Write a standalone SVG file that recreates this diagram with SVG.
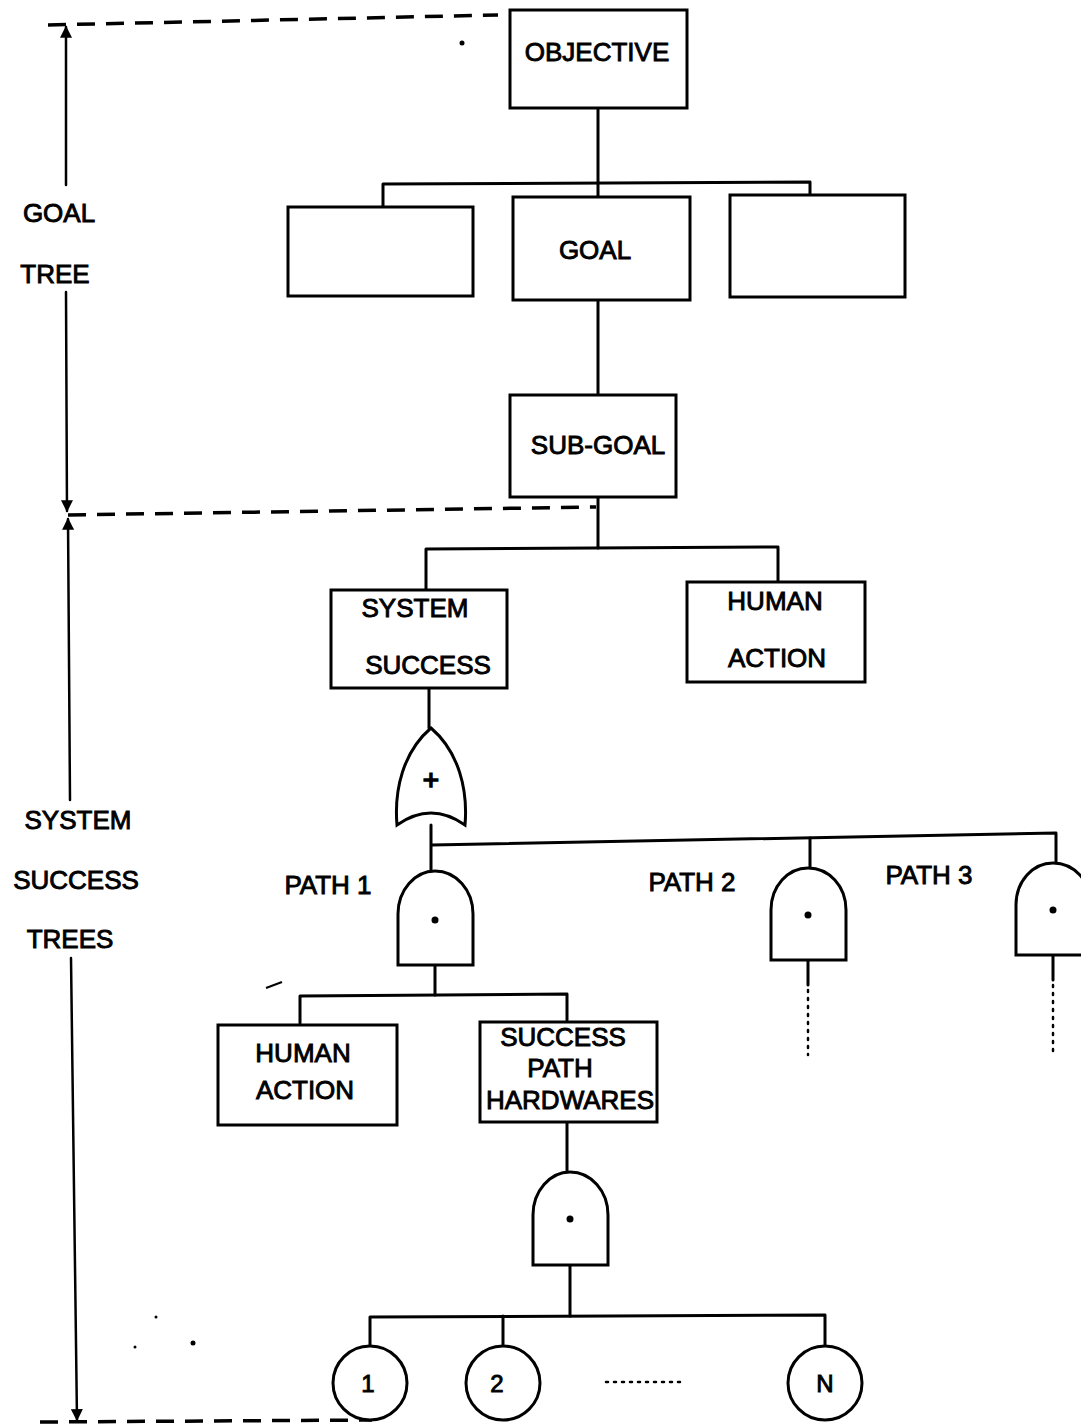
<svg xmlns="http://www.w3.org/2000/svg" width="1081" height="1426" viewBox="0 0 1081 1426">
<style>
.l{fill:none;stroke:#000;stroke-width:3;stroke-linecap:round;stroke-linejoin:round}
.d{fill:none;stroke:#000;stroke-width:3.5;stroke-dasharray:18 11}
.dot{fill:none;stroke:#000;stroke-width:2.5;stroke-dasharray:2 6;stroke-linecap:round}
.b{fill:#fff;stroke:#000;stroke-width:3}
text{font-family:"Liberation Sans",Arial,sans-serif;font-size:26px;fill:#000;stroke:#000;stroke-width:0.9;text-anchor:middle}
</style>
<defs>
<marker id="ah" viewBox="0 0 10 10" refX="9" refY="5" markerWidth="14" markerHeight="12" orient="auto-start-reverse" markerUnits="userSpaceOnUse">
<path d="M0,0 L10,5 L0,10 Z" fill="#000"/>
</marker>
</defs>
<rect width="1081" height="1426" fill="#fff"/>

<g id="scale">
<path class="d" d="M48,25 L498,15"/>
<path class="d" d="M68,515 L596,507"/>
<path class="d" d="M40,1422 L372,1420"/>
<path class="l" d="M66,185 L66,27" marker-end="url(#ah)" style="stroke-width:2.5"/>
<path class="l" d="M66,292 L67,511" marker-end="url(#ah)" style="stroke-width:2.5"/>
<path class="l" d="M70,800 L68,519" marker-end="url(#ah)" style="stroke-width:2.5"/>
<path class="l" d="M71,958 L77,1420" marker-end="url(#ah)" style="stroke-width:2.5"/>
<text x="59" y="222">GOAL</text>
<text x="55" y="283">TREE</text>
<text x="78" y="829">SYSTEM</text>
<text x="76" y="889">SUCCESS</text>
<text x="70" y="948">TREES</text>
</g>

<g id="connectors">
<path class="l" d="M598,108 V183"/>
<path class="l" d="M383,207 V184 L810,182 V195"/>
<path class="l" d="M598,183 V197"/>
<path class="l" d="M598,300 V395"/>
<path class="l" d="M598,497 V548"/>
<path class="l" d="M426,590 V549 L778,547 V582"/>
<path class="l" d="M429,688 V728"/>
<path class="l" d="M431,825 V871"/>
<path class="l" d="M432,845 L1056,833 V863"/>
<path class="l" d="M810,838 V868"/>
<path class="l" d="M435,965 V995"/>
<path class="l" d="M300,1023 V996 L567,994 V1020"/>
<path class="l" d="M567,1122 V1172"/>
<path class="l" d="M570,1265 V1316"/>
<path class="l" d="M370,1345 V1317 L825,1315 V1345"/>
<path class="l" d="M503,1316 V1345"/>
<path class="l" d="M808,960 V985"/>
<path class="dot" d="M808,990 V1055"/>
<path class="l" d="M1053,955 V980"/>
<path class="dot" d="M1053,985 V1055"/>
<path class="dot" d="M606,1382 H682"/>
</g>

<g id="objective"><rect class="b" x="510" y="10" width="177" height="98"/><text x="597" y="61">OBJECTIVE</text></g>
<g id="goal-left"><rect class="b" x="288" y="207" width="185" height="89"/></g>
<g id="goal"><rect class="b" x="513" y="197" width="177" height="103"/><text x="595" y="259">GOAL</text></g>
<g id="goal-right"><rect class="b" x="730" y="195" width="175" height="102"/></g>
<g id="subgoal"><rect class="b" x="510" y="395" width="166" height="102"/><text x="598" y="454">SUB-GOAL</text></g>
<g id="system-success"><rect class="b" x="331" y="590" width="176" height="98"/><text x="415" y="617">SYSTEM</text><text x="428" y="674">SUCCESS</text></g>
<g id="human-action-1"><rect class="b" x="687" y="582" width="178" height="100"/><text x="775" y="610">HUMAN</text><text x="777" y="667">ACTION</text></g>

<g id="or-gate">
<path class="b" d="M397,825 C394,790 403,752 431,728 C459,752 468,790 465,825 Q431,801 397,825 Z"/>
<text x="431" y="789" style="font-size:28px;stroke-width:1.5">+</text>
</g>

<g id="and-path1">
<path class="b" d="M398,965 V914 C398,890 415,871 435,871 C456,871 473,890 473,914 V965 Z"/>
<circle cx="435" cy="920" r="3.5" fill="#000"/>
</g>
<text x="328" y="894">PATH 1</text>
<g id="and-path2">
<path class="b" d="M771,960 V910 C771,886 788,868 808,868 C829,868 846,886 846,910 V960 Z"/>
<circle cx="808" cy="915" r="3.5" fill="#000"/>
</g>
<text x="692" y="891">PATH 2</text>
<g id="and-path3">
<path class="b" d="M1016,955 V905 C1016,881 1033,863 1053,863 C1074,863 1091,881 1091,905 V955 Z"/>
<circle cx="1053" cy="910" r="3.5" fill="#000"/>
</g>
<text x="929" y="884">PATH 3</text>

<g id="human-action-2"><rect class="b" x="218" y="1025" width="179" height="100"/><text x="303" y="1062">HUMAN</text><text x="305" y="1099">ACTION</text></g>
<g id="success-path-hw"><rect class="b" x="480" y="1022" width="177" height="100"/><text x="563" y="1046">SUCCESS</text><text x="560" y="1077">PATH</text><text x="570" y="1109">HARDWARES</text></g>

<g id="and-hw">
<path class="b" d="M533,1265 V1215 C533,1191 550,1172 570,1172 C591,1172 608,1191 608,1215 V1265 Z"/>
<circle cx="570" cy="1219" r="3.5" fill="#000"/>
</g>

<g id="event-1"><circle class="b" cx="370" cy="1383" r="37"/><text x="368" y="1392" style="font-size:24px">1</text></g>
<g id="event-2"><circle class="b" cx="503" cy="1383" r="37"/><text x="497" y="1392" style="font-size:24px">2</text></g>
<g id="event-n"><circle class="b" cx="825" cy="1383" r="37"/><text x="825" y="1392" style="font-size:24px">N</text></g>

<g id="specks" fill="#000">
<circle cx="462" cy="43" r="2.5"/>
<circle cx="193" cy="1343" r="2.5"/>
<circle cx="156" cy="1317" r="1.5"/>
<circle cx="135" cy="1347" r="1.5"/>
<path d="M266,988 L282,982" stroke="#000" stroke-width="2"/>
</g>
</svg>
